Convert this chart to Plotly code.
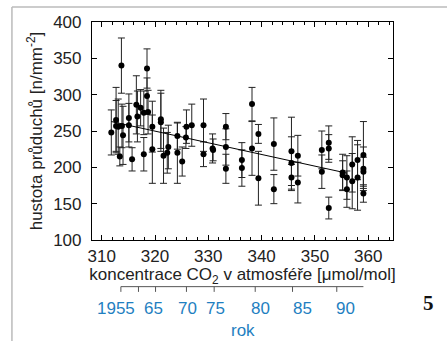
import plotly.graph_objects as go

# ---- data ----
co2 = [311.8, 312.7, 312.7, 313.1, 313.4, 313.7, 313.8, 314.0, 315.1, 315.1,
       315.7, 316.5, 316.7, 317.3, 317.9, 317.9, 318.5, 318.5, 318.7, 319.5,
       319.5, 321.1, 321.1, 321.6, 322.3, 322.5, 324.2, 324.2, 325.1, 325.8,
       325.9, 326.9, 329.1, 329.1, 330.8, 330.9, 333.3, 333.3, 333.3, 336.3,
       336.3, 338.2, 338.2, 339.4, 339.4, 342.3, 342.3, 345.6, 345.6, 345.6,
       346.8, 346.8, 351.3, 351.3, 352.6, 352.6, 352.6, 355.2, 355.2, 356.0,
       356.0, 357.0, 357.0, 358.0, 358.0, 359.1, 359.1, 359.1, 359.1]
density = [248, 265, 257, 256, 215, 340, 257, 244, 268, 258,
           211, 286, 270, 282, 275, 218, 336, 298, 276, 256,
           225, 266, 262, 216, 220, 228, 243, 220, 208, 241,
           256, 258, 258, 218, 226, 224, 256, 228, 198, 210,
           199, 287, 226, 246, 185, 232, 170, 222, 206, 186,
           216, 179, 224, 194, 234, 226, 144, 193, 189, 186,
           170, 204, 181, 210, 186, 217, 198, 194, 164]
err = [31, 45, 35, 38, 13, 38, 30, 40, 33, 30,
       16, 40, 35, 25, 30, 23, 27, 25, 30, 35,
       47, 40, 40, 38, 28, 30, 18, 42, 20, 15,
       23, 29, 36, 17, 20, 15, 18, 25, 20, 24,
       25, 23, 37, 13, 37, 36, 20, 47, 36, 18,
       28, 28, 26, 23, 23, 19, 15, 25, 20, 30,
       25, 38, 38, 27, 45, 46, 30, 20, 12]

trend_x = [311.8, 356.0]
trend_y = [263, 192]

x_ticks = [310, 320, 330, 340, 350, 360]
y_ticks = [100, 150, 200, 250, 300, 350, 400]

year_ticks = [1955, 1960, 1965, 1970, 1975, 1980, 1985, 1990]
year_co2 = [313.6, 316.9, 320.1, 325.9, 331.1, 338.8, 345.8, 354.1]
year_labels = ["1955", "", "65", "70", "75", "80", "85", "90"]
year_axis_end = 359.1
year_title_x = 336.6

BLUE = "#1f7fc1"
FONT = "Liberation Sans, Arial, sans-serif"
TXT = "#222"

fig = go.Figure()
fig.add_trace(go.Scatter(
    x=co2, y=density, mode="markers",
    marker=dict(color="black", size=6),
    error_y=dict(type="data", array=err, visible=True,
                 color="#222", thickness=1, width=3.5),
    showlegend=False, cliponaxis=False))
fig.add_trace(go.Scatter(
    x=trend_x, y=trend_y, mode="lines",
    line=dict(color="black", width=1), showlegend=False))

shapes = []
# secondary "rok" axis line and ticks
shapes.append(dict(type="line", xref="x", yref="paper",
                   x0=year_co2[0], x1=year_axis_end, y0=-0.214, y1=-0.214,
                   line=dict(color="#555", width=1)))
for xc in year_co2:
    shapes.append(dict(type="line", xref="x", yref="paper",
                       x0=xc, x1=xc, y0=-0.214, y1=-0.238,
                       line=dict(color="#555", width=1)))
# outer frame (top + left gray lines)
shapes.append(dict(type="line", xref="paper", yref="paper",
                   x0=-0.266, x1=1.2, y0=1.069, y1=1.069,
                   line=dict(color="#bbbbbb", width=1.5)))
shapes.append(dict(type="line", xref="paper", yref="paper",
                   x0=-0.266, x1=-0.266, y0=1.069, y1=-0.5,
                   line=dict(color="#bbbbbb", width=1.5)))

label_shift = [-5, 0, -2, 1, 1, 5, 10, 9]
annotations = []
for xc, lab, sh in zip(year_co2, year_labels, label_shift):
    if lab:
        annotations.append(dict(x=xc, y=-0.312, xref="x", yref="paper",
                                text=lab, showarrow=False, xshift=sh,
                                font=dict(family=FONT, size=17, color=BLUE),
                                xanchor="center", yanchor="middle"))
annotations.append(dict(x=year_title_x, y=-0.417, xref="x", yref="paper", text="rok",
                        showarrow=False,
                        font=dict(family=FONT, size=17, color=BLUE),
                        xanchor="center", yanchor="middle"))
annotations.append(dict(x=1.1196, y=-0.289, xref="paper", yref="paper", text="<b>5</b>",
                        showarrow=False,
                        font=dict(family="Liberation Serif, DejaVu Serif, serif", size=21,
                                  color="#111", weight=700),
                        xanchor="center", yanchor="middle"))

fig.update_layout(
    width=447, height=341,
    margin=dict(l=92, r=54, t=22, b=101),
    paper_bgcolor="white", plot_bgcolor="white",
    font=dict(family=FONT, size=17, color=TXT),
    shapes=shapes, annotations=annotations,
    xaxis=dict(range=[308.18, 364.65], tickvals=x_ticks,
               showline=True, linecolor="black", linewidth=1.2, mirror="ticks",
               ticks="inside", ticklen=5, tickwidth=1, tickcolor="black",
               minor=dict(dtick=2, ticks="inside", ticklen=3, tickcolor="black", tickwidth=1),
               showgrid=False, zeroline=False,
               tickfont=dict(family=FONT, size=17, color=TXT),
               title=dict(text="koncentrace CO<sub>2</sub> v atmosféře [μmol/mol]",
                          font=dict(family=FONT, size=17, color=TXT), standoff=3)),
    yaxis=dict(range=[100, 400], tickvals=y_ticks,
               showline=True, linecolor="black", linewidth=1.2, mirror="ticks",
               ticks="inside", ticklen=5, tickwidth=1, tickcolor="black",
               showgrid=False, zeroline=False, ticklabelstandoff=6,
               tickfont=dict(family=FONT, size=17, color=TXT),
               title=dict(text="hustota průduchů [n/mm<sup>-2</sup>]",
                          font=dict(family=FONT, size=17, color=TXT), standoff=6)),
)

fig.write_html("out.html")
